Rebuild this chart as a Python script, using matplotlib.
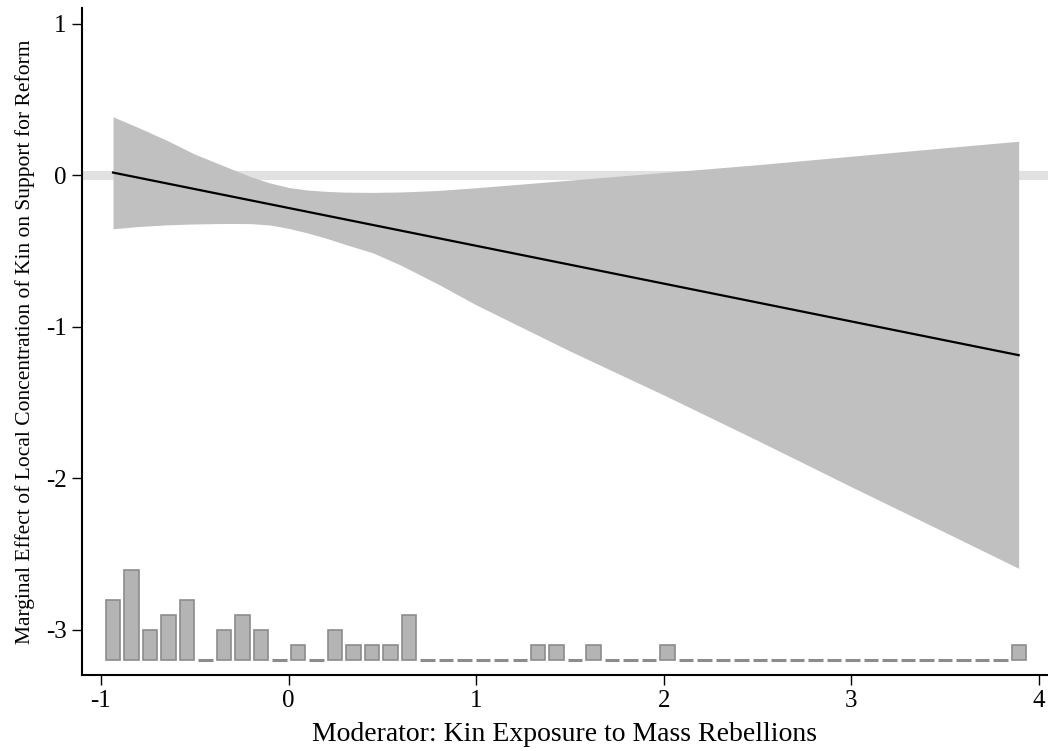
import matplotlib
matplotlib.use('Agg')
import matplotlib.pyplot as plt
import numpy as np

plt.rcParams['font.family'] = ['Liberation Serif', 'DejaVu Serif']
plt.rcParams['axes.unicode_minus'] = False

# moderator grid with marginal effect and 95% bounds
x_grid = [-0.935, -0.8, -0.65, -0.5, -0.4, -0.3, -0.2, -0.1, 0.0, 0.1, 0.2, 0.3,
          0.45, 0.6, 0.8, 1.0, 1.5, 2.0, 2.5, 3.0, 3.5, 3.891]
upper = [0.386, 0.315, 0.232, 0.14, 0.09, 0.04, -0.01, -0.05, -0.08, -0.097, -0.106, -0.111,
         -0.113, -0.11, -0.10, -0.082, -0.032, 0.019, 0.07, 0.126, 0.182, 0.225]
lower = [-0.353, -0.338, -0.327, -0.321, -0.319, -0.318, -0.319, -0.328, -0.35, -0.38, -0.415, -0.455,
         -0.512, -0.594, -0.72, -0.855, -1.16, -1.45, -1.75, -2.056, -2.357, -2.594]
me_start = 0.018
me_end = -1.187

# histogram of the moderator: 50 bins
hist_left = -0.984
hist_width = 0.0985
counts = [4, 6, 2, 3, 4, 0, 2, 3, 2, 0,
          1, 0, 2, 1, 1, 1, 3, 0, 0, 0,
          0, 0, 0, 1, 1, 0, 1, 0, 0, 0,
          1, 0, 0, 0, 0, 0, 0, 0, 0, 0,
          0, 0, 0, 0, 0, 0, 0, 0, 0, 1]

centers = hist_left + hist_width * (np.arange(len(counts)) + 0.5)
counts = np.array(counts)
base = -3.197
per_count = 0.0985

fig = plt.figure(figsize=(10.48, 7.51), dpi=100)
ax = fig.add_axes([0.0782, 0.1012, 0.9218, 0.8881])

ax.axhline(0, color='#e1e1e1', linewidth=6.5, zorder=1)
ax.fill_between(x_grid, lower, upper, color='#c0c0c0', linewidth=0, zorder=2)
ax.plot([x_grid[0], x_grid[-1]], [me_start, me_end], color='black', linewidth=1.6, zorder=3)

lws = np.where(counts == 0, 2.2, 1.2)
ax.bar(centers, counts * per_count, width=0.077, bottom=base,
       color='#b4b4b4', edgecolor='#8c8c8c', linewidth=lws, zorder=3)

ax.set_xlim(-1.1007, 4.0474)
ax.set_ylim(-3.298, 1.104)
ax.set_xticks([-1, 0, 1, 2, 3, 4])
ax.set_yticks([-3, -2, -1, 0, 1])
ax.tick_params(axis='both', length=7, width=1, labelsize=18, pad=4)

for s in ['top', 'right']:
    ax.spines[s].set_visible(False)
for s in ['left', 'bottom']:
    ax.spines[s].set_linewidth(1.5)

ax.set_xlabel('Moderator: Kin Exposure to Mass Rebellions', fontsize=20, labelpad=7)
ax.set_ylabel('Marginal Effect of Local Concentration of Kin on Support for Reform', fontsize=15.5, labelpad=8)

fig.savefig('out.png', dpi=100)
